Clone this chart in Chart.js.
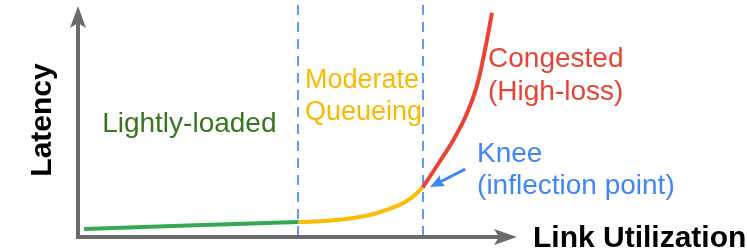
<!DOCTYPE html>
<html>
<head>
<meta charset="utf-8">
<script src="https://cdn.jsdelivr.net/npm/chart.js@4/dist/chart.umd.min.js"></script>
<style>
    html, body { margin: 0; padding: 0; background: #ffffff; }
    .chart-box { position: relative; width: 747px; height: 252px; }
</style>
</head>
<body>
<div class="chart-box"><canvas id="latencyChart"></canvas></div>
<script>
// utilization (0-100) vs latency (0-100, arbitrary units)
const lightX = [1.4, 25, 50.2];
const lightY = [3.5, 5.0, 6.5];
const moderateX = [50.2, 57, 63, 68, 72, 75.5, 78.5];
const moderateY = [6.5, 7.0, 8.3, 10.3, 12.9, 16.3, 21.4];
const congestedX = [78.5, 82, 85.5, 88.5, 90.8, 92.6, 94.3];
const congestedY = [21.4, 31.5, 42, 53, 65, 80, 97];
const zoneBounds = [50.2, 78.5];

const zoneLabels = [
    { text: 'Lightly-loaded', x: 5.5, y: 45.5, size: 28, color: '#38761d' },
    { text: 'Moderate', x: 51.7, y: 64.5, size: 27, color: '#f9b900' },
    { text: 'Queueing', x: 51.7, y: 50.6, size: 27, color: '#f9b900' },
    { text: 'Congested', x: 93.4, y: 73.6, size: 28, color: '#ea4335' },
    { text: '(High-loss)', x: 93.4, y: 59.3, size: 28, color: '#ea4335' },
    { text: 'Knee', x: 90.9, y: 32.5, size: 28, color: '#4285f4' },
    { text: '(inflection point)', x: 90.9, y: 18.6, size: 28, color: '#4285f4' }
];
const kneeArrow = { fromX: 88.2, fromY: 29.4, toX: 80.2, toY: 21.6 };

document.addEventListener('DOMContentLoaded', function () {
    initLatencyChart();
});

function toPoints(xs, ys) {
    return xs.map((x, i) => ({ x: x, y: ys[i] }));
}

function arrowHead(ctx, tipX, tipY, angle, len, half, notch) {
    ctx.save();
    ctx.translate(tipX, tipY);
    ctx.rotate(angle);
    ctx.beginPath();
    ctx.moveTo(0, 0);
    ctx.lineTo(-len, -half);
    ctx.lineTo(-len + notch, 0);
    ctx.lineTo(-len, half);
    ctx.closePath();
    ctx.fill();
    ctx.restore();
}

const decorPlugin = {
    id: 'decor',
    beforeDatasetsDraw(chart) {
        const ctx = chart.ctx;
        const xs = chart.scales.x;
        const ys = chart.scales.y;
        const x0 = xs.getPixelForValue(0);
        const y0 = ys.getPixelForValue(0);
        const xEnd = xs.getPixelForValue(xs.max);
        const yTop = ys.getPixelForValue(ys.max);

        // zone boundaries
        ctx.save();
        ctx.strokeStyle = '#5b9bf5';
        ctx.lineWidth = 2;
        ctx.setLineDash([10, 7]);
        zoneBounds.forEach(b => {
            const px = Math.round(xs.getPixelForValue(b));
            ctx.beginPath();
            ctx.moveTo(px, yTop - 1);
            ctx.lineTo(px, y0);
            ctx.stroke();
        });
        ctx.restore();

        // axes with arrows
        ctx.save();
        ctx.strokeStyle = '#6b6b6b';
        ctx.fillStyle = '#6b6b6b';
        ctx.lineWidth = 4;
        ctx.beginPath();
        ctx.moveTo(x0, y0 + 2);
        ctx.lineTo(x0, yTop + 14);
        ctx.moveTo(x0 - 2, y0);
        ctx.lineTo(xEnd - 14, y0);
        ctx.stroke();
        arrowHead(ctx, x0, yTop, -Math.PI / 2, 22, 8, 5);
        arrowHead(ctx, xEnd, y0, 0, 23, 8, 5);
        ctx.restore();
    },
    afterDatasetsDraw(chart) {
        const ctx = chart.ctx;
        const xs = chart.scales.x;
        const ys = chart.scales.y;
        const x0 = xs.getPixelForValue(0);
        const y0 = ys.getPixelForValue(0);
        const xEnd = xs.getPixelForValue(xs.max);

        ctx.save();
        ctx.textBaseline = 'alphabetic';
        ctx.textAlign = 'left';
        zoneLabels.forEach(l => {
            ctx.font = l.size + 'px "Liberation Sans", Arial, sans-serif';
            ctx.fillStyle = l.color;
            ctx.fillText(l.text, xs.getPixelForValue(l.x), ys.getPixelForValue(l.y));
        });

        // knee pointer
        const fx = xs.getPixelForValue(kneeArrow.fromX);
        const fy = ys.getPixelForValue(kneeArrow.fromY);
        const tx = xs.getPixelForValue(kneeArrow.toX);
        const ty = ys.getPixelForValue(kneeArrow.toY);
        const ang = Math.atan2(ty - fy, tx - fx);
        ctx.strokeStyle = '#4285f4';
        ctx.fillStyle = '#4285f4';
        ctx.lineWidth = 3;
        ctx.beginPath();
        ctx.moveTo(fx, fy);
        ctx.lineTo(tx - Math.cos(ang) * 10, ty - Math.sin(ang) * 10);
        ctx.stroke();
        arrowHead(ctx, tx, ty, ang, 14, 6, 2);

        // axis titles
        ctx.fillStyle = '#000000';
        ctx.font = 'bold 30px "Liberation Sans", Arial, sans-serif';
        ctx.fillText('Link Utilization', xEnd + 16, y0 + 10);
        ctx.translate(x0 - 27, 120);
        ctx.rotate(-Math.PI / 2);
        ctx.textAlign = 'center';
        ctx.fillText('Latency', 0, 0);
        ctx.restore();
    }
};

function initLatencyChart() {
    const canvas = document.getElementById('latencyChart');
    if (!canvas || typeof Chart === 'undefined') return;

    const line = (data, color) => ({
        data: data,
        borderColor: color,
        borderWidth: 4,
        pointRadius: 0,
        fill: false,
        tension: 0.4,
        borderCapStyle: 'butt'
    });

    new Chart(canvas.getContext('2d'), {
        type: 'line',
        data: {
            datasets: [
                line(toPoints(lightX, lightY), '#34a853'),
                line(toPoints(moderateX, moderateY), '#fbbc04'),
                line(toPoints(congestedX, congestedY), '#ea4335')
            ]
        },
        options: {
            responsive: true,
            maintainAspectRatio: false,
            animation: false,
            layout: { padding: { left: 78, right: 230, top: 6, bottom: 15 } },
            plugins: { legend: { display: false }, tooltip: { enabled: false } },
            scales: {
                x: { type: 'linear', min: 0, max: 100, display: false },
                y: { type: 'linear', min: 0, max: 100, display: false }
            }
        },
        plugins: [decorPlugin]
    });
}
</script>
</body>
</html>
